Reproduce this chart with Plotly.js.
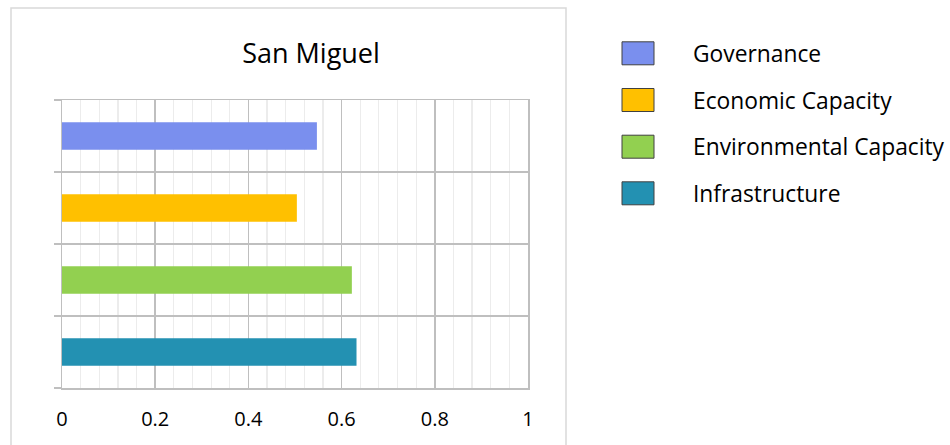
<!DOCTYPE html>
<html><head><meta charset="utf-8">
<script src="https://cdn.plot.ly/plotly-3.0.1.min.js"></script>
<style>html,body{margin:0;padding:0;background:#fff}#chart{width:950px;height:445px}</style>
</head><body><div id="chart"></div>
<script>
const seriesNames = ["Governance", "Economic Capacity", "Environmental Capacity", "Infrastructure"];
const seriesValues = [0.547, 0.504, 0.622, 0.632];
const seriesColors = ["#7A8FEE", "#FFC000", "#92D050", "#2391B2"];
const chartTitle = "San Miguel";
const xTickVals = [0, 0.2, 0.4, 0.6, 0.8, 1];
const xTickText = ["0", "0.2", "0.4", "0.6", "0.8", "1"];

const FONT = "'Open Sans', Lato, sans-serif";
const n = seriesNames.length;
const traces = seriesNames.map((name, i) => ({
  type: "bar", orientation: "h", name: name,
  x: [seriesValues[i]], y: [n - 1 - i],
  width: 0.38, marker: {color: seriesColors[i], line: {width: 0}},
  showlegend: false, hoverinfo: "x+name"
}));

// plot area pixel geometry
const L = 62, R = 528, T = 100, B = 388, W = 950, H = 445;
const pw = R - L, ph = B - T;
const px = p => (p - L) / pw;
const py = p => 1 - (p - T) / ph;

const shapes = [{
  type: "rect", xref: "paper", yref: "paper",
  x0: px(11), x1: px(566), y0: py(460), y1: py(8),
  line: {color: "#d9d9d9", width: 1.5}, fillcolor: "rgba(0,0,0,0)", layer: "below"
}];
const annotations = [];
const rowY = [53.3, 100, 146.7, 193.3];
seriesNames.forEach((name, i) => {
  shapes.push({
    type: "rect", xref: "paper", yref: "paper",
    x0: px(622), x1: px(654), y0: py(rowY[i] + 11.5), y1: py(rowY[i] - 11.5),
    fillcolor: seriesColors[i], line: {color: "#404040", width: 1}
  });
  annotations.push({
    xref: "paper", yref: "paper", x: px(691), y: py(rowY[i]),
    xanchor: "left", yanchor: "middle", showarrow: false,
    text: name, font: {family: FONT, size: 22.8, color: "#000"}
  });
});

const layout = {
  width: W, height: H,
  margin: {l: L, r: W - R, t: T, b: H - B, pad: 0},
  paper_bgcolor: "#fff", plot_bgcolor: "#fff",
  barmode: "overlay",
  title: {text: chartTitle, x: px(311), xref: "paper", xanchor: "center",
          y: 1 - 54 / H, yref: "container", yanchor: "middle",
          font: {family: FONT, size: 27, color: "#000"}},
  xaxis: {
    range: [0, 1], tickvals: xTickVals, ticktext: xTickText,
    showgrid: true, gridcolor: "#bfbfbf", gridwidth: 1.5,
    minor: {dtick: 0.04, showgrid: true, gridcolor: "#ececec", gridwidth: 1.2},
    zeroline: false, showline: true, mirror: true, linecolor: "#bfbfbf", linewidth: 1.5,
    ticks: "outside", ticklen: 12, tickcolor: "rgba(0,0,0,0)",
    tickfont: {family: FONT, size: 20, color: "#000"}, fixedrange: true
  },
  yaxis: {
    range: [-0.5, n - 0.5], tickvals: [-0.5, 0.5, 1.5, 2.5, 3.5],
    showticklabels: false, showgrid: true, gridcolor: "#bfbfbf", gridwidth: 1.5,
    zeroline: false, showline: true, mirror: true, linecolor: "#bfbfbf", linewidth: 1.5,
    ticks: "outside", ticklen: 7, tickcolor: "#bfbfbf", tickwidth: 1.5, fixedrange: true
  },
  shapes: shapes, annotations: annotations, showlegend: false
};
Plotly.newPlot("chart", traces, layout, {displayModeBar: false, staticPlot: true});
</script></body></html>
